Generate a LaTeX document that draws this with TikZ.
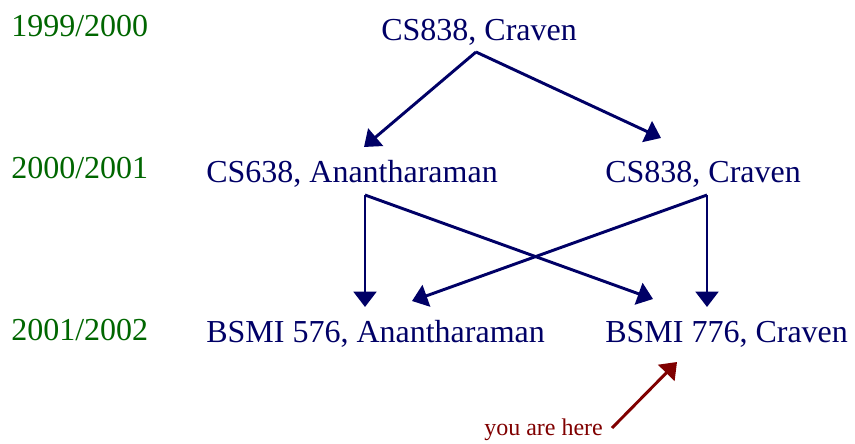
\documentclass[tikz,border=0pt]{standalone}
\usepackage{fontspec}
\setmainfont{Liberation Serif}
\usetikzlibrary{arrows.meta}
\definecolor{coursecol}{RGB}{0,0,102}
\definecolor{yearcol}{RGB}{0,102,0}
\definecolor{herecol}{RGB}{128,0,0}
\begin{document}
\begin{tikzpicture}[x=0.75pt,y=-0.75pt, line join=round,
	>={Triangle[length=11.5pt,width=17pt]},
	course/.style={text=coursecol, font=\fontsize{24}{28}\selectfont, inner sep=0pt, anchor=base west},
	year/.style={course, text=yearcol},
	link/.style={draw=coursecol, line width=2.2pt, ->}]
	\useasboundingbox (0,0) rectangle (855,443);
	% years
	\node[year] (y1) at (11,36) {1999/2000};
	\node[year] (y2) at (11,178) {2000/2001};
	\node[year] (y3) at (11,340) {2001/2002};
	% courses
	\node[course] (top) at (381,40) {CS838, Craven};
	\node[course] (midl) at (206,182) {CS638, Anantharaman};
	\node[course] (midr) at (605,182) {CS838, Craven};
	\node[course] (botl) at (206,342) {BSMI 576, Anantharaman};
	\node[course] (botr) at (605,342) {BSMI 776, Craven};
	\node[text=herecol, font=\fontsize{18}{22}\selectfont, inner sep=0pt, anchor=base west] (here) at (484,435) {you are here};
	% arrow ends
	\coordinate (top-out) at (476,52);
	\coordinate (midl-in) at (364,147);
	\coordinate (midr-in) at (661,138);
	\coordinate (midl-out) at (365,195);
	\coordinate (midr-out) at (707,195);
	\coordinate (botl-in1) at (365,307);
	\coordinate (botl-in2) at (412,301);
	\coordinate (botr-in1) at (653,299);
	\coordinate (botr-in2) at (707,307);
	\coordinate (here-out) at (612,428);
	\coordinate (here-in) at (677,362);
	\draw[link] (top-out) -- (midl-in);
	\draw[link] (top-out) -- (midr-in);
	\draw[link] (midl-out) -- (botl-in1);
	\draw[link] (midl-out) -- (botr-in1);
	\draw[link] (midr-out) -- (botl-in2);
	\draw[link] (midr-out) -- (botr-in2);
	\draw[link, draw=herecol] (here-out) -- (here-in);
\end{tikzpicture}
\end{document}
